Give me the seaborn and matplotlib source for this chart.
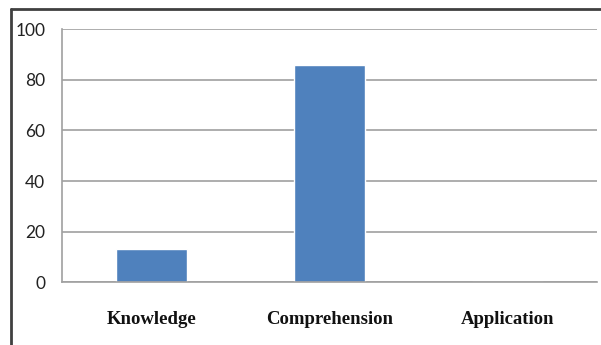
import matplotlib
matplotlib.use("Agg")
import matplotlib.pyplot as plt
import seaborn as sns
import pandas as pd
from matplotlib.lines import Line2D

categories = ["Knowledge", "Comprehension", "Application"]
values = [13, 86, 0]

sns.set_theme(style="whitegrid")
plt.rcParams['font.family'] = ['Lato', 'DejaVu Sans']

fig = plt.figure(figsize=(6.01, 3.45), dpi=100)
ax = fig.add_axes([0.1032, 0.1826, 0.8901, 0.7319])

df = pd.DataFrame({"category": categories, "value": values})
sns.barplot(data=df, x="category", y="value", color="#4F81BD", saturation=1,
            width=0.4, ax=ax)

ax.set_ylim(0, 100)
ax.set_yticks(range(0, 101, 20))
ax.set_xlim(-0.5, 2.5)
ax.set_xlabel("")
ax.set_ylabel("")
ax.grid(axis="y", color="#A0A0A0", linewidth=1.2)
ax.grid(axis="x", visible=False)
ax.set_axisbelow(True)
for side in ["top", "right"]:
    ax.spines[side].set_visible(False)
for side in ["left", "bottom"]:
    ax.spines[side].set_color("#A0A0A0")
    ax.spines[side].set_linewidth(1.2)
ax.tick_params(axis="y", length=0, pad=12, labelsize=12.5, labelcolor="#222222")
ax.tick_params(axis="x", length=0, pad=21)
for lbl in ax.get_xticklabels():
    lbl.set_fontfamily("Liberation Serif")
    lbl.set_fontweight("bold")
    lbl.set_fontsize(13.5)
    lbl.set_color("#111111")

# outer frame lines (top and left)
fig.add_artist(Line2D([0.019, 1.0], [0.975, 0.975], color="#404040", linewidth=2,
                      transform=fig.transFigure))
fig.add_artist(Line2D([0.019, 0.019], [0.0, 0.975], color="#404040", linewidth=2,
                      transform=fig.transFigure))

fig.savefig("out.png", dpi=100)
